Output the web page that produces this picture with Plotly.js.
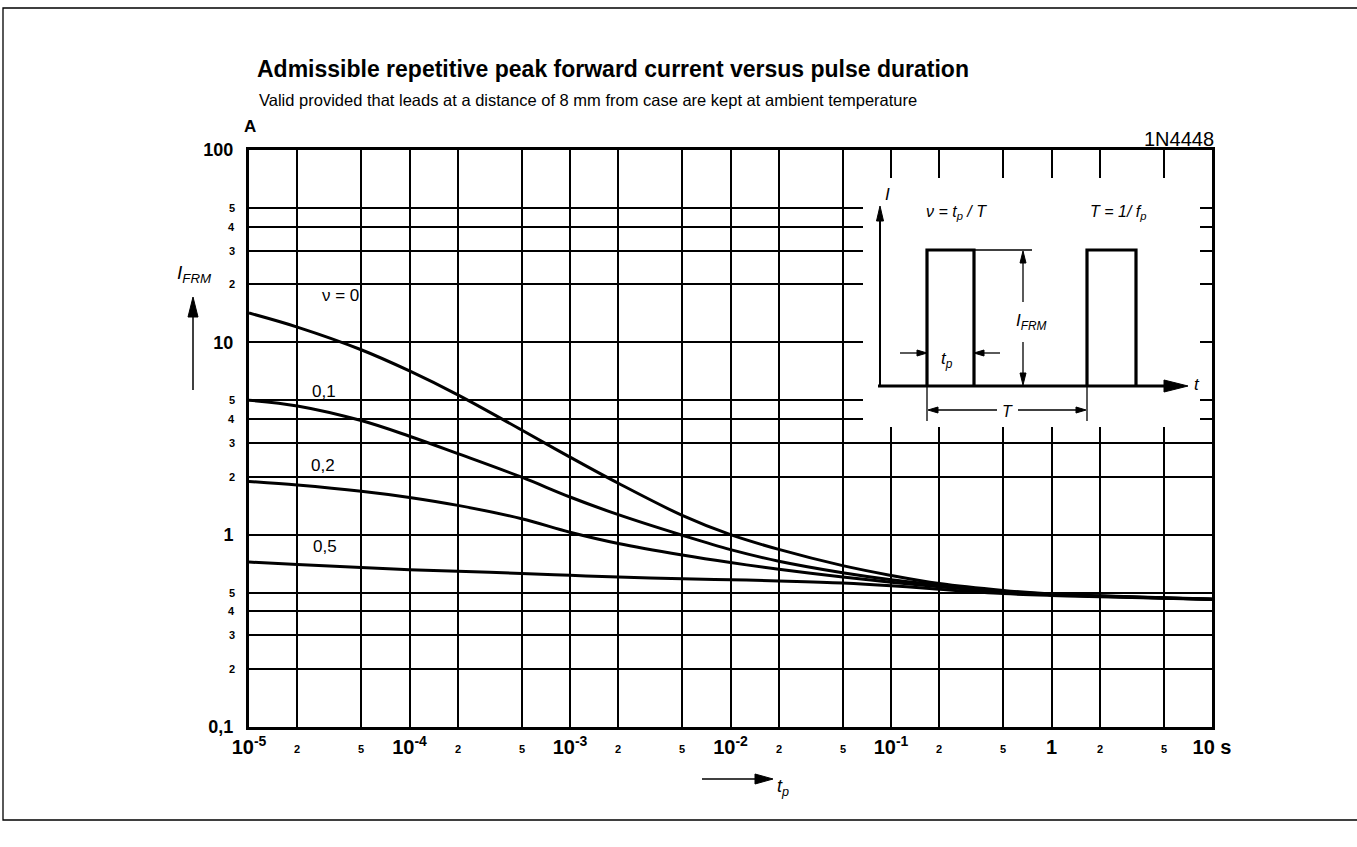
<!DOCTYPE html>
<html>
<head>
<meta charset="utf-8">
<script src="https://cdn.plot.ly/plotly-3.0.1.min.js"></script>
<style>
  html, body { margin: 0; padding: 0; background: #fff; }
  #chart { width: 1357px; height: 847px; }
</style>
</head>
<body>
<div id="chart"></div>
<script>
// ---------------- data ----------------
const tp = [1e-5, 2e-5, 5e-5, 1e-4, 2e-4, 5e-4, 1e-3, 2e-3, 5e-3, 1e-2, 2e-2, 5e-2, 1e-1, 2e-1, 5e-1, 1, 2, 5, 10];
const ifrm_nu0  = [14.2, 12.0, 9.15, 7.1, 5.33, 3.5, 2.53, 1.85, 1.26, 1.0, 0.838, 0.69, 0.614, 0.557, 0.513, 0.492, 0.481, 0.47, 0.463];
const ifrm_nu01 = [5.0, 4.67, 3.92, 3.25, 2.64, 1.99, 1.57, 1.27, 0.993, 0.836, 0.728, 0.634, 0.583, 0.548, 0.508, 0.49, 0.48, 0.469, 0.462];
const ifrm_nu02 = [1.89, 1.81, 1.68, 1.56, 1.42, 1.21, 1.03, 0.90, 0.784, 0.716, 0.661, 0.603, 0.566, 0.536, 0.502, 0.487, 0.478, 0.468, 0.461];
const ifrm_nu05 = [0.72, 0.70, 0.675, 0.658, 0.645, 0.629, 0.615, 0.602, 0.59, 0.583, 0.575, 0.561, 0.543, 0.52, 0.494, 0.483, 0.476, 0.467, 0.46];

const seriesNames = ['ν = 0', '0,1', '0,2', '0,5'];

const xMajorVals = [1e-5, 1e-4, 1e-3, 1e-2, 1e-1, 1, 10];
const xMajorText = ['10<sup>-5</sup>', '10<sup>-4</sup>', '10<sup>-3</sup>', '10<sup>-2</sup>', '10<sup>-1</sup>', '1', '10 s'];
const xMinorVals = [2e-5, 5e-5, 2e-4, 5e-4, 2e-3, 5e-3, 2e-2, 5e-2, 2e-1, 5e-1, 2, 5];
const xMinorText = ['2', '5', '2', '5', '2', '5', '2', '5', '2', '5', '2', '5'];

const yMajorVals = [0.1, 1, 10, 100];
const yMajorText = ['0,1', '1', '10', '100'];
const yMinorVals = [0.2, 0.3, 0.4, 0.5, 2, 3, 4, 5, 20, 30, 40, 50];
const yMinorText = ['2', '3', '4', '5', '2', '3', '4', '5', '2', '3', '4', '5'];

// ---------------- layout helpers (pixel -> paper) ----------------
const W = 1357, H = 847;
const L = 249, R = 1212, T = 150, B = 727;
const px = x => (x - L) / (R - L);
const py = y => (B - y) / (B - T);
const SANS = "'Liberation Sans', Arial, Helvetica, sans-serif";

function line(x0, y0, x1, y1, w) {
  return {type: 'line', xref: 'paper', yref: 'paper', layer: 'above',
          x0: px(x0), y0: py(y0), x1: px(x1), y1: py(y1),
          line: {color: '#000', width: w}};
}
function poly(pts, w) {
  const d = pts.map((p, i) => (i ? 'L ' : 'M ') + px(p[0]) + ' ' + py(p[1])).join(' ');
  return {type: 'path', xref: 'paper', yref: 'paper', layer: 'above', path: d,
          line: {color: '#000', width: w}};
}
function tri(tipX, tipY, dir, len, half) {
  let p;
  if (dir === 'up')    p = [[tipX, tipY], [tipX - half, tipY + len], [tipX + half, tipY + len]];
  if (dir === 'down')  p = [[tipX, tipY], [tipX - half, tipY - len], [tipX + half, tipY - len]];
  if (dir === 'right') p = [[tipX, tipY], [tipX - len, tipY - half], [tipX - len, tipY + half]];
  if (dir === 'left')  p = [[tipX, tipY], [tipX + len, tipY - half], [tipX + len, tipY + half]];
  const d = p.map((q, i) => (i ? 'L ' : 'M ') + px(q[0]) + ' ' + py(q[1])).join(' ') + ' Z';
  return {type: 'path', xref: 'paper', yref: 'paper', layer: 'above', path: d,
          fillcolor: '#000', line: {color: '#000', width: 1}};
}
function txt(x, y, text, size, opts) {
  return Object.assign({xref: 'paper', yref: 'paper', x: px(x), y: py(y), text: text,
    showarrow: false, xanchor: 'center', yanchor: 'middle',
    font: {family: SANS, size: size, color: '#000'}}, opts || {});
}

// ---------------- traces ----------------
const curveData = [ifrm_nu0, ifrm_nu01, ifrm_nu02, ifrm_nu05];
const traces = curveData.map((ys, i) => ({
  x: tp, y: ys, type: 'scatter', mode: 'lines', name: seriesNames[i],
  line: {color: '#000', width: 3, shape: 'spline', smoothing: 1},
  hoverinfo: 'skip'
}));

// ---------------- annotations ----------------
const annotations = [];
// minor tick labels
xMinorVals.forEach((v, i) => annotations.push({
  xref: 'x', yref: 'paper', x: Math.log10(v), y: py(749), text: '<b>' + xMinorText[i] + '</b>',
  showarrow: false, xanchor: 'center', yanchor: 'middle',
  font: {family: SANS, size: 11, color: '#000'}
}));
yMinorVals.forEach((v, i) => annotations.push({
  xref: 'paper', yref: 'y', x: px(237), y: Math.log10(v), text: '<b>' + yMinorText[i] + '</b>',
  showarrow: false, xanchor: 'right', yanchor: 'middle',
  font: {family: SANS, size: 11, color: '#000'}
}));
// subtitle and misc labels
annotations.push(txt(257, 100, 'Valid provided that leads at a distance of 8 mm from case are kept at ambient temperature', 16.5,
  {xanchor: 'left'}));
annotations.push(txt(250, 127, '<b>A</b>', 17));
annotations.push(txt(1216, 139, '1N4448', 20, {xanchor: 'right'}));
annotations.push(txt(194, 274, '<i>I</i><sub><i>FRM</i></sub>', 19));
annotations.push(txt(775, 787, '<i>t</i><sub><i>p</i></sub>', 18, {xanchor: 'left'}));
// curve labels
annotations.push(txt(340, 295, seriesNames[0], 17));
annotations.push(txt(324, 391, seriesNames[1], 17));
annotations.push(txt(323, 465, seriesNames[2], 17));
annotations.push(txt(325, 546, seriesNames[3], 17));
// inset labels
annotations.push(txt(883, 194, '<i>I</i>', 17, {xanchor: 'left'}));
annotations.push(txt(924, 213, '<i>ν = t<sub>p</sub> / T</i>', 16, {xanchor: 'left'}));
annotations.push(txt(1088, 213, '<i>T = 1/ f<sub>p</sub></i>', 16, {xanchor: 'left'}));
annotations.push(txt(1031, 322, '<i>I<sub>FRM</sub></i>', 17));
annotations.push(txt(947, 360, '<i>t<sub>p</sub></i>', 17));
annotations.push(txt(1007, 411, '<i>T</i>', 16));
annotations.push(txt(1192, 384, '<i>t</i>', 17, {xanchor: 'left'}));

// ---------------- shapes ----------------
const shapes = [];
// outer frame
shapes.push({type: 'rect', xref: 'paper', yref: 'paper', layer: 'below',
  x0: px(3), x1: px(1372), y0: py(8), y1: py(820), line: {color: '#000', width: 1.3}});
// y-axis arrow
shapes.push(line(193, 390, 193, 315, 1.5));
shapes.push(tri(193, 297, 'up', 20, 5));
// x-axis arrow
shapes.push(line(702, 779, 756, 779, 1.5));
shapes.push(tri(773, 779, 'right', 18, 5));
// inset white background
shapes.push({type: 'rect', xref: 'paper', yref: 'paper', layer: 'above',
  x0: px(863), x1: px(1200), y0: py(178), y1: py(427), fillcolor: '#fff', line: {width: 0}});
// inset: I axis
shapes.push(line(880, 387, 880, 220, 2));
shapes.push(tri(880, 206, 'up', 15, 3.5));
// inset: time axis baseline
shapes.push(line(878, 386, 1166, 386, 3));
shapes.push(tri(1188, 386, 'right', 24, 6));
// inset: pulses
shapes.push(poly([[927, 386], [927, 250], [974, 250], [974, 386]], 3.2));
shapes.push(poly([[1087, 386], [1087, 250], [1136, 250], [1136, 386]], 3.2));
// inset: IFRM dimension
shapes.push(line(974, 250, 1032, 250, 1.5));
shapes.push(line(1023, 262, 1023, 302, 1.3));
shapes.push(line(1023, 342, 1023, 374, 1.3));
shapes.push(tri(1023, 251, 'up', 12, 3));
shapes.push(tri(1023, 385, 'down', 12, 3));
// inset: tp dimension
shapes.push(line(900, 353, 918, 353, 1.3));
shapes.push(tri(927, 353, 'right', 10, 3));
shapes.push(line(983, 353, 1000, 353, 1.3));
shapes.push(tri(974, 353, 'left', 10, 3));
// inset: T dimension
shapes.push(line(927, 386, 927, 421, 1.3));
shapes.push(line(1087, 386, 1087, 421, 1.3));
shapes.push(line(936, 410, 997, 410, 1.3));
shapes.push(line(1018, 410, 1078, 410, 1.3));
shapes.push(tri(928, 410, 'left', 10, 3));
shapes.push(tri(1086, 410, 'right', 10, 3));

// ---------------- layout ----------------
const layout = {
  width: W, height: H,
  margin: {l: L, r: W - R, t: T, b: H - B, pad: 0},
  paper_bgcolor: '#fff', plot_bgcolor: '#fff',
  showlegend: false, hovermode: false,
  title: {
    text: '<b>Admissible repetitive peak forward current versus pulse duration</b>',
    font: {family: SANS, size: 23, color: '#000'},
    xref: 'container', yref: 'container',
    x: 257 / W, xanchor: 'left', y: 1 - 69 / H, yanchor: 'middle'
  },
  xaxis: {
    type: 'log', range: [-5, 1], fixedrange: true,
    tickvals: xMajorVals, ticktext: xMajorText, ticks: '',
    tickfont: {family: SANS, size: 20, color: '#000', weight: 'bold'},
    ticklabelstandoff: 0,
    showgrid: true, gridcolor: '#000', gridwidth: 2,
    minor: {tickvals: xMinorVals, showgrid: true, gridcolor: '#000', gridwidth: 2, ticks: ''},
    showline: true, linecolor: '#000', linewidth: 3, mirror: true, zeroline: false
  },
  yaxis: {
    type: 'log', range: [-1, 2], fixedrange: true,
    tickvals: yMajorVals, ticktext: yMajorText, ticks: '',
    tickfont: {family: SANS, size: 18, color: '#000', weight: 'bold'},
    ticklabelstandoff: 9,
    showgrid: true, gridcolor: '#000', gridwidth: 2,
    minor: {tickvals: yMinorVals, showgrid: true, gridcolor: '#000', gridwidth: 2, ticks: ''},
    showline: true, linecolor: '#000', linewidth: 3, mirror: true, zeroline: false
  },
  shapes: shapes,
  annotations: annotations
};

Plotly.newPlot('chart', traces, layout, {staticPlot: true, displayModeBar: false});
</script>
</body>
</html>
